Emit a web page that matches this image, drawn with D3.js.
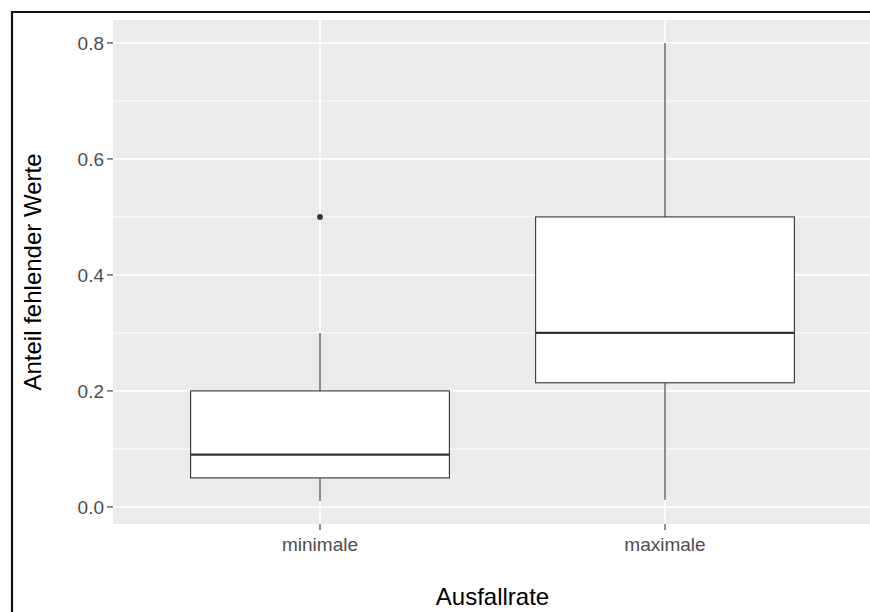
<!DOCTYPE html>
<html><head><meta charset="utf-8">
<script src="https://cdn.jsdelivr.net/npm/d3@7/dist/d3.min.js"></script>
<style>body{margin:0;background:#fff;} svg{display:block;}</style>
</head><body>
<svg id="c" width="870" height="612"></svg>
<script>
const categories = ["minimale", "maximale"];
const lowerWhisker = [0.01, 0.0125];
const q1 = [0.05, 0.214];
const median = [0.09, 0.30];
const q3 = [0.20, 0.50];
const upperWhisker = [0.30, 0.80];
const outliers = [[0.50], []];
const yTicks = [0.0, 0.2, 0.4, 0.6, 0.8];
const yMinor = [0.1, 0.3, 0.5, 0.7];
const xTitle = "Ausfallrate";
const yTitle = "Anteil fehlender Werte";

const FONT = "'Liberation Sans', Arial, sans-serif";
const svg = d3.select("#c");
const panel = {left: 113, right: 872, top: 20, bottom: 524};

const allVals = [...lowerWhisker, ...upperWhisker, ...outliers.flat()];
const lo = d3.min(allVals), hi = d3.max(allVals);
const pad = (hi - lo) * 0.05;
const y = d3.scaleLinear().domain([lo - pad, hi + pad]).range([panel.bottom, panel.top]);
const xc = d3.scaleLinear().domain([0.4, categories.length + 0.6]).range([panel.left, panel.right]);
const bw = xc(1.375) - xc(1);

// outer frame
svg.append("path").attr("d", "M12,612 V12 H870").attr("fill", "none").attr("stroke", "#111").attr("stroke-width", 2.2);

// panel
svg.append("rect").attr("x", panel.left).attr("y", panel.top)
  .attr("width", panel.right - panel.left).attr("height", panel.bottom - panel.top).attr("fill", "#EBEBEB");

const g = svg.append("g");
g.selectAll(".minor").data(yMinor).join("line")
  .attr("x1", panel.left).attr("x2", panel.right).attr("y1", d => y(d)).attr("y2", d => y(d))
  .attr("stroke", "#fff").attr("stroke-width", 0.9);
g.selectAll(".major").data(yTicks).join("line")
  .attr("x1", panel.left).attr("x2", panel.right).attr("y1", d => y(d)).attr("y2", d => y(d))
  .attr("stroke", "#fff").attr("stroke-width", 1.6);
g.selectAll(".vmajor").data(categories).join("line")
  .attr("x1", (d, i) => xc(i + 1)).attr("x2", (d, i) => xc(i + 1)).attr("y1", panel.top).attr("y2", panel.bottom)
  .attr("stroke", "#fff").attr("stroke-width", 1.6);

// boxes
categories.forEach((c, i) => {
  const cx = xc(i + 1);
  const bg = svg.append("g");
  bg.append("line").attr("x1", cx).attr("x2", cx).attr("y1", y(upperWhisker[i])).attr("y2", y(q3[i]))
    .attr("stroke", "#333").attr("stroke-width", 1.1);
  bg.append("line").attr("x1", cx).attr("x2", cx).attr("y1", y(q1[i])).attr("y2", y(lowerWhisker[i]))
    .attr("stroke", "#333").attr("stroke-width", 1.1);
  bg.append("rect").attr("x", cx - bw).attr("y", y(q3[i])).attr("width", 2 * bw).attr("height", y(q1[i]) - y(q3[i]))
    .attr("fill", "#fff").attr("stroke", "#333").attr("stroke-width", 1.1);
  bg.append("line").attr("x1", cx - bw).attr("x2", cx + bw).attr("y1", y(median[i])).attr("y2", y(median[i]))
    .attr("stroke", "#333").attr("stroke-width", 2.2);
  bg.selectAll("circle").data(outliers[i]).join("circle")
    .attr("cx", cx).attr("cy", d => y(d)).attr("r", 2.9).attr("fill", "#333");
});

// y axis
const ya = svg.append("g");
ya.selectAll("line").data(yTicks).join("line")
  .attr("x1", panel.left - 6).attr("x2", panel.left).attr("y1", d => y(d)).attr("y2", d => y(d))
  .attr("stroke", "#333").attr("stroke-width", 1.1);
ya.selectAll("text").data(yTicks).join("text")
  .attr("x", panel.left - 9).attr("y", d => y(d)).attr("dy", "0.36em").attr("text-anchor", "end")
  .attr("font-family", FONT).attr("font-size", 19).attr("fill", "#4D4D4D")
  .text(d => d3.format(".1f")(d));

// x axis
const xa = svg.append("g");
xa.selectAll("line").data(categories).join("line")
  .attr("x1", (d, i) => xc(i + 1)).attr("x2", (d, i) => xc(i + 1)).attr("y1", panel.bottom).attr("y2", panel.bottom + 6)
  .attr("stroke", "#333").attr("stroke-width", 1.1);
xa.selectAll("text").data(categories).join("text")
  .attr("x", (d, i) => xc(i + 1)).attr("y", panel.bottom + 27).attr("text-anchor", "middle")
  .attr("font-family", FONT).attr("font-size", 19).attr("fill", "#4D4D4D")
  .text(d => d);

svg.append("text").attr("x", (panel.left + panel.right) / 2).attr("y", 605).attr("text-anchor", "middle")
  .attr("font-family", FONT).attr("font-size", 24).attr("fill", "#000").text(xTitle);
svg.append("text").attr("transform", `translate(41,${(panel.top + panel.bottom) / 2}) rotate(-90)`).attr("text-anchor", "middle")
  .attr("font-family", FONT).attr("font-size", 24).attr("fill", "#000").text(yTitle);
</script>
</body></html>
